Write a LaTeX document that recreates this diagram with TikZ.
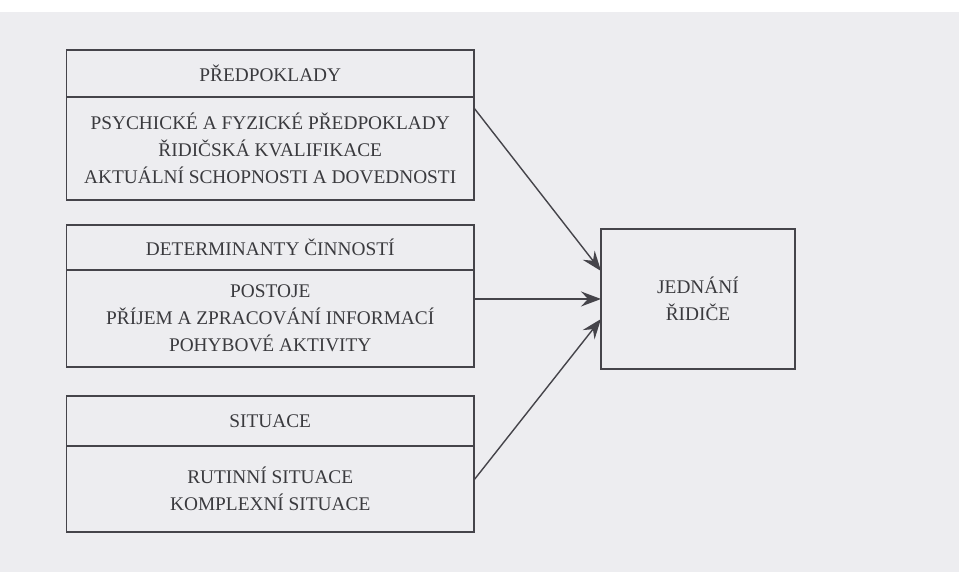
\documentclass[tikz,border=0pt]{standalone}
\usepackage{fontspec}
\setmainfont{Liberation Serif}
\usetikzlibrary{positioning,arrows.meta}

\definecolor{papier}{HTML}{EDEDF0}
\definecolor{trait}{HTML}{45444A}
\definecolor{encre}{HTML}{3A3A3E}

\begin{document}
\begin{tikzpicture}[
    every node/.style={text=encre, font=\fontsize{11}{15.3}\selectfont, outer sep=0pt},
    titre/.style={draw=trait, line width=0.8pt, minimum width=8.15cm, minimum height=0.94cm, inner sep=0pt},
    corps/.style={draw=trait, line width=0.8pt, minimum width=8.15cm, align=center, inner sep=0pt},
    fleche/.style={draw=trait, line width=0.8pt, -{Stealth[length=4mm,width=3mm,inset=1.4mm]}},
  ]

    \coordinate (c1) at (1.33,10.44);
    \coordinate (c2) at (1.33,6.94);
    \coordinate (c3) at (1.33,3.52);

  % fond
  \fill[white] (0,0) rectangle (19.18,11.44);
  \fill[papier] (0,0) rectangle (19.18,11.2);
  \useasboundingbox (0,0) rectangle (19.18,11.44);

  % Predpoklady
  \node[titre, anchor=north west] (pred) at (c1) {PŘEDPOKLADY};
  \node[corps, below=0pt of pred, minimum height=2.06cm] (predB)
    {PSYCHICKÉ A FYZICKÉ PŘEDPOKLADY\\ŘIDIČSKÁ KVALIFIKACE\\AKTUÁLNÍ SCHOPNOSTI A DOVEDNOSTI};

  % Determinanty
  \node[titre, anchor=north west, minimum height=0.9cm] (det) at (c2) {DETERMINANTY ČINNOSTÍ};
  \node[corps, below=0pt of det, minimum height=1.94cm] (detB)
    {POSTOJE\\PŘÍJEM A ZPRACOVÁNÍ INFORMACÍ\\POHYBOVÉ AKTIVITY};

  % Situace
  \node[titre, anchor=north west, minimum height=1.0cm] (sit) at (c3) {SITUACE};
  \node[corps, below=0pt of sit, minimum height=1.72cm] (sitB)
    {RUTINNÍ SITUACE\\KOMPLEXNÍ SITUACE};

  % Jednani ridice
  \node[draw=trait, line width=0.8pt, minimum width=3.88cm, minimum height=2.8cm,
        align=center] (act) at (13.96,5.46) {JEDNÁNÍ\\ŘIDIČE};

  \draw[fleche] ([yshift=-0.22cm]predB.north east) -- ([yshift=0.56cm]act.west);
  \draw[fleche] (detB.east |- act.west) -- (act.west);
  \draw[fleche] ([yshift=0.18cm]sitB.east) -- ([yshift=-0.4cm]act.west);
  \end{tikzpicture}
\end{document}
